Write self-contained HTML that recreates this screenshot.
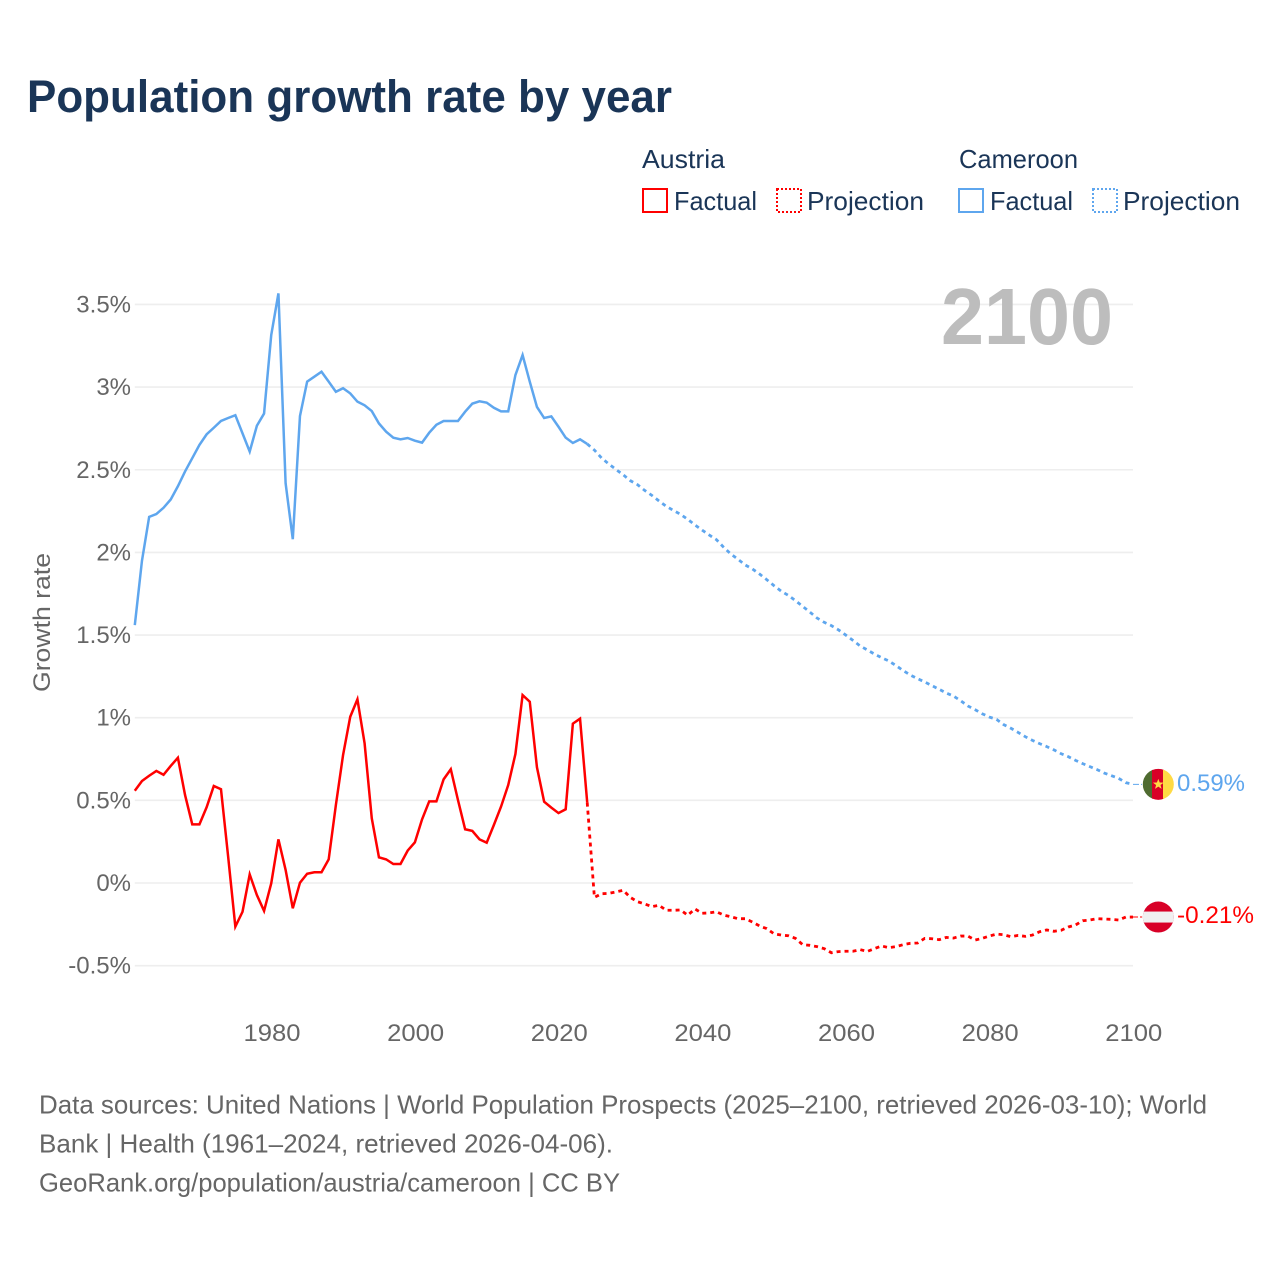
<!DOCTYPE html>
<html lang="en">
<head>
<meta charset="utf-8">
<title>Population growth rate by year</title>
<style>
html,body{margin:0;padding:0;background:#fff}
svg{display:block;font-family:"Liberation Sans",sans-serif}
</style>
</head>
<body>
<svg id="chart" width="1280" height="1280" viewBox="0 0 1280 1280" xmlns="http://www.w3.org/2000/svg">
  <defs>
    <clipPath id="clip-cm"><circle id="clip-cm-c" cx="1158.3" cy="785" r="15.5"/></clipPath>
    <clipPath id="clip-at"><circle id="clip-at-c" cx="1158.3" cy="917" r="15.5"/></clipPath>
  </defs>
  <rect width="1280" height="1280" fill="#fff"/>
  <text x="27" y="112" font-size="45" font-weight="700" fill="#1a3557" textLength="645" lengthAdjust="spacingAndGlyphs">Population growth rate by year</text>

  <g font-size="26" fill="#1a3557">
    <text x="642" y="168" textLength="83" lengthAdjust="spacingAndGlyphs">Austria</text>
    <text x="959" y="168" textLength="119" lengthAdjust="spacingAndGlyphs">Cameroon</text>
    <rect x="643" y="189" width="24" height="23" fill="none" stroke="#ff0000" stroke-width="2"/>
    <text x="674" y="210" textLength="83" lengthAdjust="spacingAndGlyphs">Factual</text>
    <rect x="777" y="189" width="24" height="23" fill="none" stroke="#ff0000" stroke-width="2" stroke-dasharray="2 2"/>
    <text x="807" y="210" textLength="117" lengthAdjust="spacingAndGlyphs">Projection</text>
    <rect x="959" y="189" width="24" height="23" fill="none" stroke="#5ea6ee" stroke-width="2"/>
    <text x="990" y="210" textLength="83" lengthAdjust="spacingAndGlyphs">Factual</text>
    <rect x="1093" y="189" width="24" height="23" fill="none" stroke="#5ea6ee" stroke-width="2" stroke-dasharray="2 2"/>
    <text x="1123" y="210" textLength="117" lengthAdjust="spacingAndGlyphs">Projection</text>
  </g>

  <g id="grid"></g>
  <g id="yticks" font-size="24" fill="#666" text-anchor="end"></g>
  <g id="xticks" font-size="24" fill="#666" text-anchor="middle"></g>
  <text transform="translate(50,692) rotate(-90)" font-size="24" fill="#666" textLength="139" lengthAdjust="spacingAndGlyphs">Growth rate</text>
  <text x="941" y="344" font-size="80" font-weight="700" fill="#bdbdbd" textLength="172" lengthAdjust="spacingAndGlyphs">2100</text>

  <g id="series"></g>

  <g id="flag-cm" clip-path="url(#clip-cm)">
    <rect id="cm-g" x="1142" width="11" height="32" fill="#4f6b30"/>
    <rect id="cm-r" x="1152" width="12" height="32" fill="#d80027"/>
    <rect id="cm-y" x="1163" width="11" height="32" fill="#ffda44"/>
    <polygon id="cm-s" fill="#ffda44" points="0,-5.5 1.4,-1.8 5.4,-1.7 2.2,0.7 3.3,4.5 0,2.3 -3.3,4.5 -2.2,0.7 -5.4,-1.7 -1.4,-1.8"/>
  </g>
  <g id="flag-at" clip-path="url(#clip-at)">
    <rect id="at-r" x="1142" width="33" height="32" fill="#d80027"/>
    <rect id="at-w" x="1142" width="33" height="11" fill="#f0f0f0"/>
  </g>
  <text id="label-cm" x="1177" font-size="24" fill="#5ea6ee" textLength="68" lengthAdjust="spacingAndGlyphs"></text>
  <text id="label-at" x="1177" font-size="24" fill="#ff0000" textLength="77" lengthAdjust="spacingAndGlyphs"></text>

  <g font-size="26" fill="#666">
    <text x="39" y="1113.5" textLength="1168" lengthAdjust="spacingAndGlyphs">Data sources: United Nations | World Population Prospects (2025–2100, retrieved 2026-03-10); World</text>
    <text x="39" y="1152.5" textLength="574" lengthAdjust="spacingAndGlyphs">Bank | Health (1961–2024, retrieved 2026-04-06).</text>
    <text x="39" y="1191.5" textLength="581" lengthAdjust="spacingAndGlyphs">GeoRank.org/population/austria/cameroon | CC BY</text>
  </g>
</svg>
<script>
const factualStartYear = 1961;
const projectionStartYear = 2025;
const yTickValues = [-0.5, 0, 0.5, 1, 1.5, 2, 2.5, 3, 3.5];
const yTickLabels = ['-0.5%', '0%', '0.5%', '1%', '1.5%', '2%', '2.5%', '3%', '3.5%'];
const xTickValues = [1980, 2000, 2020, 2040, 2060, 2080, 2100];
const xTickLabels = ['1980', '2000', '2020', '2040', '2060', '2080', '2100'];
const endLabels = ['-0.21%', '0.59%'];

const austriaFactual = [0.558,0.617,0.649,0.678,0.655,0.708,0.758,0.532,0.355,0.355,0.458,0.587,0.567,0.159,-0.264,-0.174,0.052,-0.073,-0.169,-0.002,0.264,0.079,-0.153,0.002,0.056,0.065,0.065,0.143,0.472,0.774,1.006,1.111,0.845,0.391,0.155,0.143,0.115,0.115,0.196,0.246,0.385,0.494,0.494,0.627,0.688,0.502,0.325,0.315,0.264,0.244,0.351,0.462,0.593,0.780,1.137,1.097,0.700,0.492,0.456,0.423,0.446,0.964,0.994,0.486];
const austriaProjection = [-0.087,-0.065,-0.063,-0.054,-0.044,-0.087,-0.113,-0.127,-0.143,-0.135,-0.165,-0.165,-0.163,-0.195,-0.157,-0.183,-0.181,-0.174,-0.194,-0.204,-0.216,-0.216,-0.236,-0.260,-0.276,-0.307,-0.315,-0.319,-0.335,-0.373,-0.377,-0.385,-0.397,-0.422,-0.415,-0.413,-0.413,-0.403,-0.414,-0.397,-0.381,-0.391,-0.385,-0.373,-0.365,-0.363,-0.335,-0.337,-0.343,-0.329,-0.333,-0.321,-0.321,-0.345,-0.335,-0.321,-0.309,-0.313,-0.325,-0.317,-0.323,-0.315,-0.295,-0.284,-0.292,-0.286,-0.266,-0.254,-0.228,-0.224,-0.216,-0.218,-0.220,-0.224,-0.206,-0.206];
const cameroonFactual = [1.56,1.95,2.215,2.232,2.27,2.32,2.40,2.49,2.57,2.65,2.714,2.754,2.795,2.813,2.83,2.72,2.61,2.766,2.84,3.315,3.567,2.418,2.08,2.825,3.033,3.063,3.093,3.033,2.972,2.993,2.962,2.912,2.89,2.855,2.78,2.73,2.694,2.684,2.692,2.676,2.664,2.724,2.772,2.795,2.795,2.795,2.851,2.90,2.914,2.906,2.875,2.853,2.853,3.073,3.194,3.033,2.88,2.813,2.823,2.76,2.694,2.662,2.684,2.656];
const cameroonProjection = [2.619,2.571,2.535,2.502,2.470,2.434,2.410,2.375,2.345,2.311,2.279,2.254,2.230,2.200,2.166,2.135,2.105,2.077,2.031,1.990,1.958,1.924,1.900,1.869,1.835,1.799,1.766,1.740,1.708,1.674,1.639,1.603,1.577,1.557,1.531,1.500,1.468,1.434,1.410,1.385,1.363,1.343,1.315,1.285,1.258,1.236,1.216,1.194,1.172,1.149,1.131,1.103,1.071,1.049,1.024,1.004,0.990,0.958,0.936,0.911,0.885,0.863,0.843,0.825,0.805,0.782,0.764,0.742,0.722,0.704,0.686,0.665,0.649,0.633,0.607,0.597];

const NS = 'http://www.w3.org/2000/svg';
const xScale = year => 134.8 + (year - 1961) * (1133 - 134.8) / (2100 - 1961);
const yScale = value => 883 - value * 165.3;

const grid = document.getElementById('grid');
const yticks = document.getElementById('yticks');
const xticks = document.getElementById('xticks');
const series = document.getElementById('series');

yTickValues.forEach((value, i) => {
  const line = document.createElementNS(NS, 'line');
  
  
  line.setAttribute('x1', 134.8);
  line.setAttribute('x2', 1133);
  line.setAttribute('y1', yScale(value));
  line.setAttribute('y2', yScale(value));
  line.setAttribute('stroke', '#eeeeee');
  line.setAttribute('stroke-width', 1.6);
  grid.appendChild(line);

  const label = document.createElementNS(NS, 'text');
  
  
  label.setAttribute('x', 131);
  label.setAttribute('y', yScale(value) + 8);
  label.textContent = yTickLabels[i];
  yticks.appendChild(label);
});

xTickValues.forEach((year, i) => {
  const label = document.createElementNS(NS, 'text');
  
  
  label.setAttribute('x', xScale(year) + 0.8);
  label.setAttribute('y', 1041);
  label.setAttribute('textLength', 57);
  label.setAttribute('lengthAdjust', 'spacingAndGlyphs');
  label.textContent = xTickLabels[i];
  xticks.appendChild(label);
});

function pathFrom(startYear, values, prefix) {
  let d = prefix || '';
  values.forEach((value, i) => {
    d += (d ? 'L' : 'M') + xScale(startYear + i).toFixed(2) + ' ' + yScale(value).toFixed(2);
  });
  return d;
}

function startPoint(year, value) {
  return 'M' + xScale(year).toFixed(2) + ' ' + yScale(value).toFixed(2);
}

const austriaLastFactual = austriaFactual[austriaFactual.length - 1];
const cameroonLastFactual = cameroonFactual[cameroonFactual.length - 1];
const austriaEnd = austriaProjection[austriaProjection.length - 1];
const cameroonEnd = cameroonProjection[cameroonProjection.length - 1];

const lineAustriaFactual = document.createElementNS(NS, 'path');


lineAustriaFactual.setAttribute('d', pathFrom(factualStartYear, austriaFactual));
lineAustriaFactual.setAttribute('fill', 'none');
lineAustriaFactual.setAttribute('stroke', '#ff0000');
lineAustriaFactual.setAttribute('stroke-width', 2.5);
series.appendChild(lineAustriaFactual);

const lineAustriaProjection = document.createElementNS(NS, 'path');


lineAustriaProjection.setAttribute('d', pathFrom(projectionStartYear, austriaProjection, startPoint(projectionStartYear - 1, austriaLastFactual)));
lineAustriaProjection.setAttribute('fill', 'none');
lineAustriaProjection.setAttribute('stroke', '#ff0000');
lineAustriaProjection.setAttribute('stroke-width', 2.8);
lineAustriaProjection.setAttribute('stroke-dasharray', '4 4');
series.appendChild(lineAustriaProjection);

const lineCameroonFactual = document.createElementNS(NS, 'path');


lineCameroonFactual.setAttribute('d', pathFrom(factualStartYear, cameroonFactual));
lineCameroonFactual.setAttribute('fill', 'none');
lineCameroonFactual.setAttribute('stroke', '#5ea6ee');
lineCameroonFactual.setAttribute('stroke-width', 2.5);
series.appendChild(lineCameroonFactual);

const lineCameroonProjection = document.createElementNS(NS, 'path');


lineCameroonProjection.setAttribute('d', pathFrom(projectionStartYear, cameroonProjection, startPoint(projectionStartYear - 1, cameroonLastFactual)));
lineCameroonProjection.setAttribute('fill', 'none');
lineCameroonProjection.setAttribute('stroke', '#5ea6ee');
lineCameroonProjection.setAttribute('stroke-width', 2.8);
lineCameroonProjection.setAttribute('stroke-dasharray', '4 4');
series.appendChild(lineCameroonProjection);

const connectorAustria = document.createElementNS(NS, 'line');


connectorAustria.setAttribute('x1', xScale(2100));
connectorAustria.setAttribute('x2', 1142);
connectorAustria.setAttribute('y1', yScale(austriaEnd));
connectorAustria.setAttribute('y2', yScale(austriaEnd));
connectorAustria.setAttribute('stroke', '#ff0000');
connectorAustria.setAttribute('stroke-width', 1);
connectorAustria.setAttribute('stroke-dasharray', '5 2');
series.appendChild(connectorAustria);

const connectorCameroon = document.createElementNS(NS, 'line');


connectorCameroon.setAttribute('x1', xScale(2100));
connectorCameroon.setAttribute('x2', 1142);
connectorCameroon.setAttribute('y1', yScale(cameroonEnd));
connectorCameroon.setAttribute('y2', yScale(cameroonEnd));
connectorCameroon.setAttribute('stroke', '#5ea6ee');
connectorCameroon.setAttribute('stroke-width', 1);
connectorCameroon.setAttribute('stroke-dasharray', '6 2');
series.appendChild(connectorCameroon);

const cyCm = yScale(cameroonEnd);
const cyAt = yScale(austriaEnd);
document.getElementById('clip-cm-c').setAttribute('cy', cyCm);
document.getElementById('clip-at-c').setAttribute('cy', cyAt);
['cm-g', 'cm-r', 'cm-y'].forEach(id => document.getElementById(id).setAttribute('y', cyCm - 16));
document.getElementById('cm-s').setAttribute('transform', 'translate(1158.3,' + cyCm + ')');
document.getElementById('at-r').setAttribute('y', cyAt - 16);
document.getElementById('at-w').setAttribute('y', cyAt - 5.5);

const labelAt = document.getElementById('label-at');
labelAt.setAttribute('y', cyAt + 6);
labelAt.textContent = endLabels[0];
const labelCm = document.getElementById('label-cm');
labelCm.setAttribute('y', cyCm + 6.5);
labelCm.textContent = endLabels[1];
</script>
</body>
</html>
